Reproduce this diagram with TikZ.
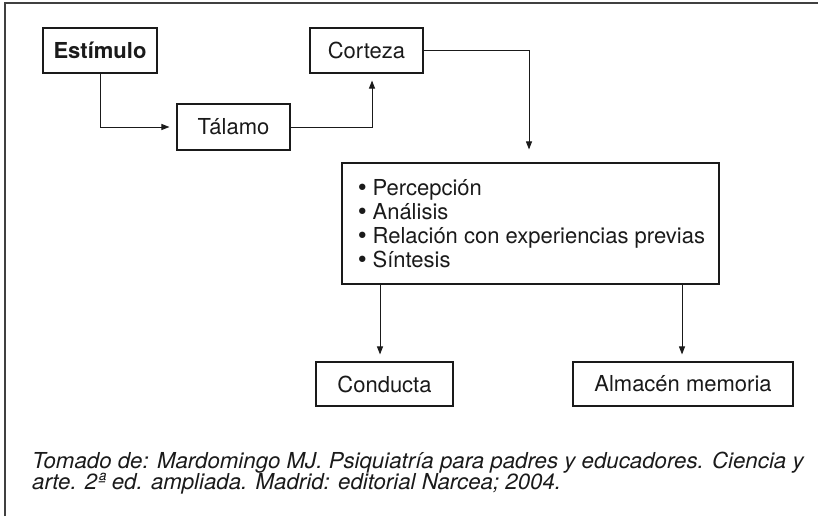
\documentclass[tikz,border=0pt]{standalone}
\usepackage{fontspec}
\setmainfont{TeX Gyre Heros}
\newfontfamily\bulfont{DejaVu Sans}
\usetikzlibrary{arrows.meta,calc}
\definecolor{ink}{HTML}{1A1A1A}
\newcommand\blt{{\bulfont •}\,}
\tikzset{
  boxnode/.style={draw=ink, line width=1.1pt, inner sep=0pt, font=\fontsize{22}{24}\selectfont, text=ink},
  arr/.style={draw=ink, line width=0.9pt, -{Triangle[length=8pt,width=6pt]}},
  framel/.style={draw=black!75, line width=1.6pt}
}
\begin{document}
\begin{tikzpicture}[x=1pt,y=-1pt]
\useasboundingbox (0,0) rectangle (818,516);
% frame
\coordinate (fbl) at (5,516);
\coordinate (ftl) at (5,3);
\coordinate (ftr) at (818,3);
\draw[framel] (fbl) -- (ftl) -- (ftr);
% nodes
\node[boxnode, minimum width=114pt, minimum height=45pt, font=\fontsize{22}{24}\selectfont\bfseries] (est) at (100,50.5) {Estímulo};
\node[boxnode, minimum width=113pt, minimum height=46pt] (tal) at (233.5,127) {Tálamo};
\node[boxnode, minimum width=113pt, minimum height=45pt] (cor) at (366.5,50.5) {Corteza};
\node[boxnode, minimum height=121pt, minimum width=377pt, align=left] (lst) at (530.5,223.5)
  {\blt Percepción\\\blt Análisis\\\blt Relación con experiencias previas\\\blt Síntesis};
\node[boxnode, minimum width=137pt, minimum height=44pt] (con) at (384.5,384) {Conducta};
\node[boxnode, minimum width=220pt, minimum height=44pt] (alm) at (683,384) {Almacén memoria};
% connectors
\draw[arr] (est.south) |- ([xshift=-7pt]tal.west);
\draw[arr] (tal.east) -| ([xshift=5.5pt,yshift=-7pt]cor.south);
\draw[arr] (cor.east) -| ([xshift=-1.5pt,yshift=13pt]lst.north);
\coordinate (t1) at ([xshift=-4.5pt,yshift=7pt]con.north);
\coordinate (t2) at ([xshift=-1pt,yshift=7pt]alm.north);
\draw[arr] (lst.south -| t1) -- (t1);
\draw[arr] (lst.south -| t2) -- (t2);
% caption
\node[anchor=west, inner sep=0pt, align=left, text=ink, xscale=1.012, font=\fontsize{22}{21.5}\selectfont\itshape] (cap) at (32,473)
  {Tomado de: Mardomingo MJ. Psiquiatría para padres y educadores. Ciencia y\\arte. 2ª ed. ampliada. Madrid: editorial Narcea; 2004.};
\end{tikzpicture}
\end{document}
